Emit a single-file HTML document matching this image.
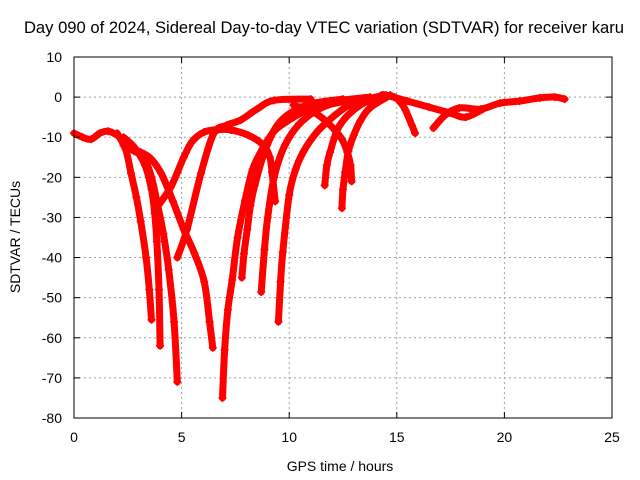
<!DOCTYPE html>
<html><head><meta charset="utf-8"><style>
body{margin:0;background:#fff}
svg{display:block;font-family:"Liberation Sans",sans-serif}
</style></head><body>
<svg id="chart" width="640" height="480" viewBox="0 0 640 480">
<rect width="640" height="480" fill="#fff"/>
<text x="324" y="33" font-size="16.6" text-anchor="middle">Day 090 of 2024, Sidereal Day-to-day VTEC variation (SDTVAR) for receiver karu</text>
<g id="grid"></g>
<g id="series"></g>
<rect x="74" y="57" width="538" height="361" fill="none" stroke="#000" stroke-width="1"/>
<g id="ticks"></g>
<text x="20" y="237" font-size="14" text-anchor="middle" transform="rotate(-90 20 237)">SDTVAR / TECUs</text>
<text x="340" y="471" font-size="14" text-anchor="middle">GPS time / hours</text>
</svg>
<script>
const xTicks=[0,5,10,15,20,25];
const yTicks=[10,0,-10,-20,-30,-40,-50,-60,-70,-80];
const baseline=[[0,-9],[0.4,-10],[0.8,-10.5],[1.2,-9],[1.6,-8.5],[2.0,-9.5]];
const arcA=[[2.0,-9],[2.4,-13],[2.65,-19],[2.9,-25],[3.1,-31],[3.35,-40],[3.5,-48],[3.6,-55.5]];
const arcB=[[2.3,-10],[2.8,-12.5],[3.3,-17],[3.6,-23],[3.75,-29],[3.85,-36],[3.95,-48],[4.0,-62]];
const arcC=[[2.3,-12],[2.8,-13.5],[3.25,-15],[3.6,-20],[3.85,-26],[4.15,-34],[4.4,-43],[4.65,-56],[4.8,-71]];
const arcD=[[2.8,-13],[3.5,-15],[4.05,-19],[4.6,-26],[5.1,-33],[5.6,-39],[6.05,-46],[6.3,-56],[6.45,-62.5]];
const arcE=[[3.85,-27.5],[4.5,-22.4],[5.1,-15],[5.5,-11],[6.05,-8.7],[6.7,-8.1],[7.3,-8.2],[8.1,-9.5],[8.8,-12],[9.1,-15],[9.2,-18.7],[9.35,-26]];
const arcF=[[4.8,-40],[5.25,-33],[5.9,-19],[6.5,-9],[7.1,-7],[7.75,-5.7],[8.5,-3],[9.3,-0.8],[11,-0.5]];
const arcG=[[6.9,-75],[7.0,-63],[7.15,-53],[7.35,-45.6],[7.6,-35],[7.95,-25.7],[8.3,-18],[8.75,-13],[9.3,-8.5],[10.0,-5.7],[10.9,-3],[11.9,-1.2],[13.75,0]];
const arcH1=[[7.8,-45],[7.9,-39],[8.05,-33],[8.2,-27],[8.4,-22],[8.9,-13],[9.6,-6],[10.8,-2],[12.5,-0.5]];
const arcH2=[[8.7,-48.6],[8.85,-38],[9.0,-30],[9.3,-20],[9.8,-12],[10.6,-6],[11.8,-2],[13.5,-0.5]];
const arcI=[[9.5,-56],[9.6,-46],[9.7,-38.7],[10.0,-24.4],[10.3,-18],[10.65,-13.7],[11.1,-10],[11.6,-7],[12.8,-2],[14.4,0.5]];
const arcJ=[[11.65,-22],[11.75,-17],[11.9,-13.7],[12.35,-7],[13.3,-2],[14.4,0.5]];
const arcL=[[10.2,-2],[11.1,-3.7],[11.6,-5.5],[12.05,-7.8],[12.45,-10.5],[12.7,-13.7],[12.85,-17],[12.9,-21]];
const arcK=[[12.45,-27.7],[12.5,-23],[12.6,-18.7],[12.75,-13.5],[13.0,-9.5],[13.3,-6],[13.75,-2.7],[14.7,0.5]];
const arcM=[[14.3,0.5],[14.9,0],[15.2,-1.5],[15.4,-3.2],[15.7,-7],[15.85,-9]];
const arcN=[[14.5,0.5],[15.5,-1],[16.5,-2.5],[17.5,-4],[18.2,-5],[19,-3]];
const arcP=[[16.7,-7.7],[17.25,-4.5],[17.9,-2.7],[18.9,-3],[19.8,-1.5],[20.7,-1],[21.65,-0.2],[22.35,0],[22.8,-0.5]];
const allArcs=[baseline,arcA,arcB,arcC,arcD,arcE,arcF,arcG,arcH1,arcH2,arcI,arcJ,arcL,arcK,arcM,arcN,arcP];
const X=h=>74+(h-0)*(538/25);
const Y=v=>57+(10-v)*(361/90);
const NS="http://www.w3.org/2000/svg";
const grid=document.getElementById('grid'),ticks=document.getElementById('ticks'),ser=document.getElementById('series');
function mk(tag,at,parent){const e=document.createElementNS(NS,tag);for(const k in at)e.setAttribute(k,at[k]);parent.appendChild(e);return e;}
xTicks.forEach(t=>{const x=X(t);
 if(t>0&&t<25){const g=mk('line',{x1:x,x2:x,y1:57,y2:418,stroke:'#a0a0a0','stroke-dasharray':'2,3'},grid);
 
 }
 mk('line',{x1:x,x2:x,y1:418,y2:412,stroke:'#000'},ticks);mk('line',{x1:x,x2:x,y1:57,y2:63,stroke:'#000'},ticks);
 const l=mk('text',{x:x,y:442,'font-size':14,'text-anchor':'middle'},ticks);l.textContent=t;
 
 });
yTicks.forEach(t=>{const y=Y(t);
 if(t<10&&t>-80){const g=mk('line',{x1:74,x2:612,y1:y,y2:y,stroke:'#a0a0a0','stroke-dasharray':'2,3'},grid);
 
 }
 mk('line',{x1:74,x2:80,y1:y,y2:y,stroke:'#000'},ticks);mk('line',{x1:612,x2:606,y1:y,y2:y,stroke:'#000'},ticks);
 const l=mk('text',{x:62,y:y+5,'font-size':14,'text-anchor':'end'},ticks);l.textContent=t;
 
 });
function smoothPath(pts){
 let d=`M${pts[0][0]},${pts[0][1]}`;
 for(let i=0;i<pts.length-1;i++){
  const p0=pts[i-1]||pts[i],p1=pts[i],p2=pts[i+1],p3=pts[i+2]||p2;
  const c1=[p1[0]+(p2[0]-p0[0])/6,p1[1]+(p2[1]-p0[1])/6];
  const c2=[p2[0]-(p3[0]-p1[0])/6,p2[1]-(p3[1]-p1[1])/6];
  d+=` C${c1[0]},${c1[1]} ${c2[0]},${c2[1]} ${p2[0]},${p2[1]}`;
 }
 return d;
}
allArcs.forEach(arc=>{
 const pts=arc.map(d=>[X(d[0]),Y(d[1])]);
 const p=mk('path',{d:smoothPath(pts),fill:'none',stroke:'#ff0000','stroke-width':7,'stroke-linejoin':'round','stroke-linecap':'round'},ser);
 
 
 pts.forEach(q=>{const x=q[0],y=q[1];
  const m=mk('path',{d:`M${x-4},${y}H${x+4}M${x},${y-4}V${y+4}`,stroke:'#ff0000','stroke-width':1.5},ser);
  
  });
});
</script>
</body></html>
